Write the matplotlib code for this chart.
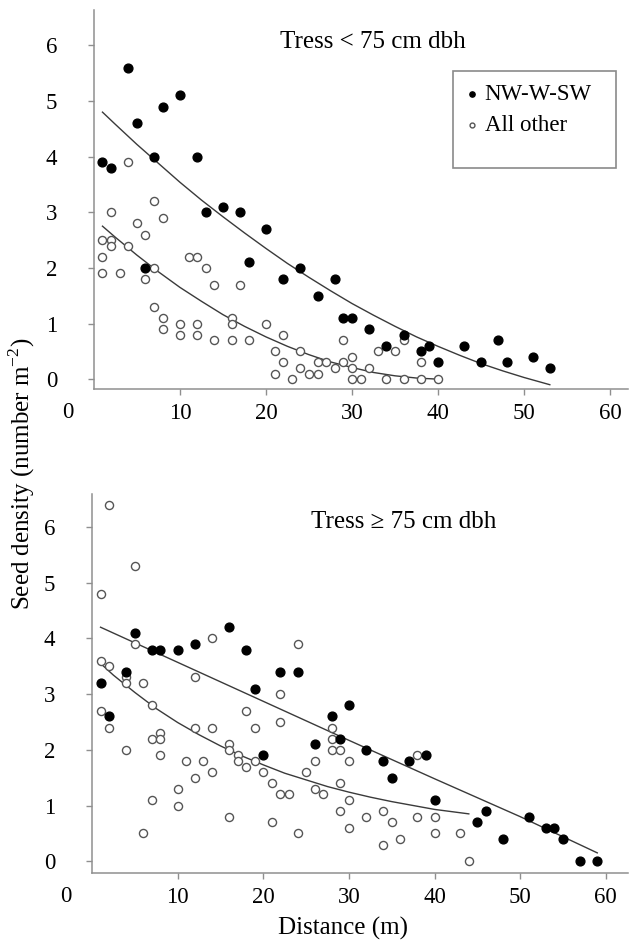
import matplotlib
matplotlib.use("Agg")
import matplotlib.pyplot as plt
from matplotlib.patches import Rectangle

plt.rcParams['font.family'] = ['Liberation Serif', 'DejaVu Serif']
plt.rcParams['mathtext.fontset'] = 'custom'
plt.rcParams['mathtext.rm'] = 'Liberation Serif'

# Trees < 75 cm dbh
small_nw_x = [1, 2, 4, 5, 6, 7, 8, 10, 12, 13, 15, 17, 18, 20, 22, 24, 26, 28, 29, 30,
              32, 34, 36, 38, 39, 40, 43, 45, 47, 48, 51, 53]
small_nw_y = [3.9, 3.8, 5.6, 4.6, 2.0, 4.0, 4.9, 5.1, 4.0, 3.0, 3.1, 3.0, 2.1, 2.7, 1.8, 2.0, 1.5, 1.8, 1.1, 1.1,
              0.9, 0.6, 0.8, 0.5, 0.6, 0.3, 0.6, 0.3, 0.7, 0.3, 0.4, 0.2]
small_other_x = [1, 1, 1, 2, 2, 2, 3, 4, 4, 5, 6, 6, 7, 7, 7, 8, 8, 8, 10, 10,
                 11, 12, 12, 12, 13, 14, 14, 16, 16, 16, 17, 18, 20, 21, 21, 22, 22, 23, 24, 24,
                 25, 26, 26, 27, 28, 29, 29, 30, 30, 30, 31, 32, 33, 34, 35, 36, 36, 38, 38, 40]
small_other_y = [2.5, 2.2, 1.9, 3.0, 2.5, 2.4, 1.9, 3.9, 2.4, 2.8, 2.6, 1.8, 3.2, 2.0, 1.3, 2.9, 1.1, 0.9, 1.0, 0.8,
                 2.2, 2.2, 1.0, 0.8, 2.0, 1.7, 0.7, 1.1, 1.0, 0.7, 1.7, 0.7, 1.0, 0.5, 0.1, 0.8, 0.3, 0.0, 0.5, 0.2,
                 0.1, 0.3, 0.1, 0.3, 0.2, 0.7, 0.3, 0.4, 0.2, 0.0, 0.0, 0.2, 0.5, 0.0, 0.5, 0.7, 0.0, 0.3, 0.0, 0.0]
# fitted trend lines
small_nw_fit_x = [1, 2.5, 5, 7.5, 10, 12.5, 15, 17.5, 20, 22.5, 25, 27.5, 30, 32.5, 35, 37.5, 40,
                  42.5, 45, 47.5, 50, 53]
small_nw_fit_y = [4.80, 4.58, 4.22, 3.88, 3.54, 3.22, 2.92, 2.63, 2.35, 2.08, 1.83, 1.59, 1.36, 1.15, 0.95,
                  0.76, 0.59, 0.43, 0.28, 0.15, 0.03, -0.10]
small_other_fit_x = [1, 2.5, 5, 7.5, 10, 12.5, 15, 17.5, 20, 22.5, 25, 27.5, 30, 32.5, 35, 37.5, 40]
small_other_fit_y = [2.75, 2.55, 2.23, 1.93, 1.65, 1.40, 1.16, 0.95, 0.76, 0.59, 0.44, 0.31, 0.21, 0.12,
                     0.06, 0.02, 0.00]

# Trees >= 75 cm dbh
large_nw_x = [1, 2, 4, 5, 7, 8, 10, 12, 16, 18, 19, 20, 22, 24, 26, 28, 29, 30,
              32, 34, 35, 37, 39, 40, 45, 46, 48, 51, 53, 54, 55, 57, 59]
large_nw_y = [3.2, 2.6, 3.4, 4.1, 3.8, 3.8, 3.8, 3.9, 4.2, 3.8, 3.1, 1.9, 3.4, 3.4, 2.1, 2.6, 2.2, 2.8,
              2.0, 1.8, 1.5, 1.8, 1.9, 1.1, 0.7, 0.9, 0.4, 0.8, 0.6, 0.6, 0.4, 0.0, 0.0]
large_other_x = [1, 1, 1, 2, 2, 2, 4, 4, 4, 5, 5, 6, 6, 7, 7, 7, 8, 8, 8, 10,
                 10, 11, 12, 12, 12, 13, 14, 14, 14, 16, 16, 16, 17, 17, 18, 18, 19, 19, 20, 21,
                 21, 22, 22, 22, 23, 24, 24, 25, 26, 26, 27, 28, 28, 28, 29, 29, 29, 30, 30, 30,
                 32, 34, 34, 35, 36, 38, 38, 40, 40, 43, 44]
large_other_y = [4.8, 3.6, 2.7, 6.4, 3.5, 2.4, 3.3, 3.2, 2.0, 5.3, 3.9, 3.2, 0.5, 2.8, 2.2, 1.1, 2.3, 2.2, 1.9, 1.3,
                 1.0, 1.8, 3.3, 2.4, 1.5, 1.8, 4.0, 2.4, 1.6, 2.1, 2.0, 0.8, 1.9, 1.8, 2.7, 1.7, 2.4, 1.8, 1.6, 1.4,
                 0.7, 3.0, 2.5, 1.2, 1.2, 3.9, 0.5, 1.6, 1.8, 1.3, 1.2, 2.4, 2.2, 2.0, 2.0, 1.4, 0.9, 1.8, 1.1, 0.6,
                 0.8, 0.9, 0.3, 0.7, 0.4, 1.9, 0.8, 0.8, 0.5, 0.5, 0.0]
large_nw_fit_x = [1, 10, 20, 30, 40, 50, 59]
large_nw_fit_y = [4.20, 3.57, 2.87, 2.17, 1.48, 0.80, 0.15]
large_other_fit_x = [1, 2.5, 5, 7.5, 10, 12.5, 15, 17.5, 20, 22.5, 25, 27.5, 30, 32.5, 35, 37.5, 40, 42, 44]
large_other_fit_y = [3.55, 3.34, 3.03, 2.74, 2.49, 2.27, 2.07, 1.89, 1.73, 1.58, 1.46, 1.34, 1.24, 1.15,
                     1.07, 1.00, 0.93, 0.89, 0.85]

y_ticks = [0, 1, 2, 3, 4, 5, 6]
x_ticks = [10, 20, 30, 40, 50, 60]

fs = 16.5      # tick labels
fs_text = 18   # titles, axis labels
spine_col = '#8f8f8f'

fig = plt.figure(figsize=(6.3, 9.4), dpi=100)
ax1 = fig.add_axes([0.149, 0.586, 0.848, 0.403])
ax2 = fig.add_axes([0.146, 0.071, 0.851, 0.404])


def style(ax, xmax, ymin, ymax):
    ax.set_xlim(0, xmax)
    ax.set_ylim(ymin, ymax)
    for s in ['top', 'right']:
        ax.spines[s].set_visible(False)
    for s in ['left', 'bottom']:
        ax.spines[s].set_color(spine_col)
        ax.spines[s].set_linewidth(1.1)
    ax.set_yticks(y_ticks)
    ax.set_xticks(x_ticks)
    ax.tick_params(axis='y', length=4.5, width=1, color=spine_col, pad=22, labelsize=fs)
    ax.tick_params(axis='x', length=4, width=1, color=spine_col, pad=6, labelsize=fs)
    ax.text(-3, -0.062, '0', transform=ax.get_xaxis_transform(), ha='center', va='center',
            fontsize=fs)


def draw(ax, ox, oy, nx, ny, fox, foy, fnx, fny):
    ax.plot(fnx, fny, color='#3a3a3a', lw=1.0, zorder=2)
    ax.plot(fox, foy, color='#3a3a3a', lw=1.0, zorder=2)
    ax.scatter(ox, oy, s=34, facecolors='white', edgecolors='#555555', linewidths=1.0,
               zorder=3, label='All other')
    ax.scatter(nx, ny, s=40, color='black', zorder=4, label='NW-W-SW')


draw(ax1, small_other_x, small_other_y, small_nw_x, small_nw_y,
     small_other_fit_x, small_other_fit_y, small_nw_fit_x, small_nw_fit_y)
style(ax1, 62.1, -0.18, 6.63)
ax1.text(0.522, 0.916, 'Tress < 75 cm dbh', transform=ax1.transAxes, ha='center', va='center',
         fontsize=fs_text)

h, l = ax1.get_legend_handles_labels()
ax1.legend(h[::-1], l[::-1], loc='upper left', bbox_to_anchor=(0.68, 0.83), frameon=False,
           fontsize=16.5, handlelength=0.5, handletextpad=0.3, labelspacing=0.45,
           markerscale=0.6, borderaxespad=0)
ax1.add_patch(Rectangle((0.672, 0.583), 0.306, 0.256, transform=ax1.transAxes, fill=False,
                        edgecolor='#8a8a8a', lw=1.2, clip_on=False, zorder=5))

draw(ax2, large_other_x, large_other_y, large_nw_x, large_nw_y,
     large_other_fit_x, large_other_fit_y, large_nw_fit_x, large_nw_fit_y)
style(ax2, 62.6, -0.216, 6.6)
ax2.text(0.581, 0.924, 'Tress \u2265 75 cm dbh', transform=ax2.transAxes, ha='center', va='center',
         fontsize=fs_text)

fig.text(0.035, 0.496, 'Seed density (number m$^{\\mathregular{-2}}$)', rotation=90,
         ha='center', va='center', fontsize=fs_text)
fig.text(0.544, 0.0128, 'Distance (m)', ha='center', va='center', fontsize=fs_text)

fig.savefig('out.png', dpi=100)
